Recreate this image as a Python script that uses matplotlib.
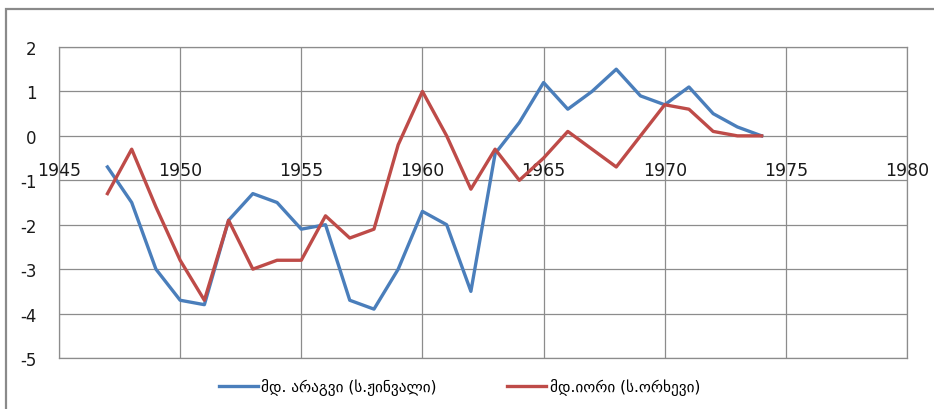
import matplotlib
matplotlib.use('Agg')
import matplotlib.pyplot as plt
import matplotlib.transforms as mtransforms
from matplotlib.patches import Rectangle

plt.rcParams['axes.unicode_minus'] = False

# years of observation
years = list(range(1947, 1975))

# river Aragvi (Zhinvali)
aragvi = [-0.7, -1.5, -3.0, -3.7, -3.8, -1.9, -1.3, -1.5, -2.1, -2.0,
          -3.7, -3.9, -3.0, -1.7, -2.0, -3.5, -0.4, 0.3, 1.2, 0.6,
          1.0, 1.5, 0.9, 0.7, 1.1, 0.5, 0.2, 0.0]

# river Iori (Orkhevi)
iori = [-1.3, -0.3, -1.6, -2.8, -3.7, -1.9, -3.0, -2.8, -2.8, -1.8,
        -2.3, -2.1, -0.2, 1.0, 0.0, -1.2, -0.3, -1.0, -0.5, 0.1,
        -0.3, -0.7, 0.0, 0.7, 0.6, 0.1, 0.0, 0.0]

labels = ['მდ. არაგვი (ს.ჟინვალი)', 'მდ.იორი (ს.ორხევი)']
x_ticks = [1945, 1950, 1955, 1960, 1965, 1970, 1975, 1980]
y_ticks = [-5, -4, -3, -2, -1, 0, 1, 2]

grid_col = '#8c8c8c'

fig = plt.figure(figsize=(9.34, 4.1), dpi=100)
ax = fig.add_axes([59 / 934, 1 - 359 / 410, 848 / 934, 311 / 410])

# outer chart frame (runs off the right and bottom edges)
fig.patches.append(Rectangle((6 / 934, -0.1), 1.2, 1 - 10 / 410 + 0.1,
                             transform=fig.transFigure, fill=False,
                             edgecolor='#8a8a8a', linewidth=1.6))

ax.plot(years, aragvi, color='#4a7ebb', linewidth=2.4, label=labels[0])
ax.plot(years, iori, color='#be4b48', linewidth=2.4, label=labels[1])

ax.set_xlim(1945, 1980)
ax.set_ylim(-5, 2)
ax.set_xticks(x_ticks)
ax.set_yticks(y_ticks)
ax.grid(True, color=grid_col, linewidth=0.9)
ax.set_axisbelow(True)

for side in ['left', 'right', 'top', 'bottom']:
    ax.spines[side].set_color(grid_col)
    ax.spines[side].set_linewidth(0.9)

ax.tick_params(axis='x', length=0, pad=18, labelsize=12.5, colors='#1a1a1a')
ax.tick_params(axis='y', length=0, pad=16, labelsize=12, colors='#1a1a1a')

# x labels sit under the zero line like in Excel
offset = mtransforms.ScaledTranslation(0, (359 - 137) / 100.0, fig.dpi_scale_trans)
for lbl in ax.get_xticklabels():
    lbl.set_transform(lbl.get_transform() + offset)

fig.legend(loc='center', bbox_to_anchor=(0.492, 1 - 388 / 410), ncol=2,
           frameon=False, fontsize=11, handlelength=2.55, handletextpad=0.25,
           columnspacing=4.6)

plt.savefig('out.png', dpi=100)
